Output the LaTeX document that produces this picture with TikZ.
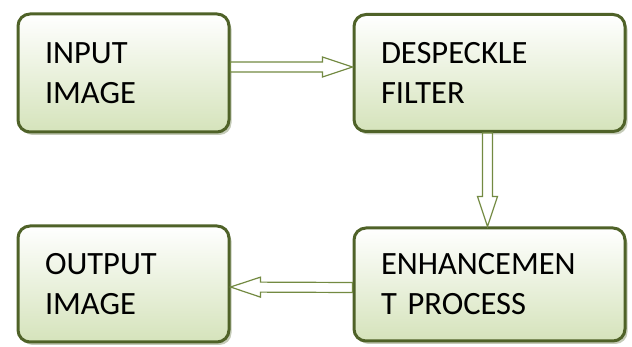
\documentclass[tikz,border=0pt]{standalone}
\usepackage{fontspec}
\setmainfont{Carlito}
\usetikzlibrary{calc}
\usetikzlibrary{shadows}

\definecolor{stageline}{RGB}{79,98,40}
\definecolor{stagefill}{RGB}{213,227,187}
\definecolor{arrowline}{RGB}{115,138,66}

\tikzset{
  stage/.style={draw=stageline, line width=3pt, rounded corners=12pt,
    top color=white, bottom color=stagefill,
    drop shadow={shadow xshift=2.5pt, shadow yshift=-3pt, fill=stageline!55, opacity=0.6},
    inner xsep=27pt, align=left,
    font=\fontsize{32.5}{40}\selectfont},
  blockarrow/.style={draw=arrowline, fill=white, line width=1.2pt, line join=miter,
    to path={let \p1=(\tikztostart), \p2=(\tikztotarget),
      \n1={veclen(\x2-\x1,\y2-\y1)}, \n2={(\x2-\x1)/\n1}, \n3={(\y2-\y1)/\n1} in
      (\x1-5*\n3,\y1+5*\n2) -- (\x2-30*\n2-5*\n3,\y2-30*\n3+5*\n2)
      -- (\x2-30*\n2-10*\n3,\y2-30*\n3+10*\n2) -- (\p2)
      -- (\x2-30*\n2+10*\n3,\y2-30*\n3-10*\n2) -- (\x2-30*\n2+5*\n3,\y2-30*\n3-5*\n2)
      -- (\x1+5*\n3,\y1-5*\n2) -- cycle}}
}

\begin{document}
\begin{tikzpicture}[x=1pt,y=-1pt]
\useasboundingbox (0,0) rectangle (632,347);

\node[stage, minimum width=211pt, minimum height=118pt, text width=157pt] (inp) at (123.5,73) {INPUT\\IMAGE};
\node[stage, minimum width=271pt, minimum height=117pt, text width=217pt] (fil) at (489.5,73) {DESPECKLE\\FILTER};
\node[stage, minimum width=271pt, minimum height=113pt, text width=217pt] (enh) at (489.5,284.5) {ENHANCEMEN\\T PROCESS};
\node[stage, minimum width=211pt, minimum height=116pt, text width=157pt] (out) at (123.5,284) {OUTPUT\\IMAGE};

\draw[blockarrow] ([yshift=6pt]inp.east) to ([yshift=6pt]fil.west);
\draw[blockarrow] ([xshift=-2pt]fil.south) to ([xshift=-2pt]enh.north);
\draw[blockarrow] ([yshift=-3pt]enh.west) to ([yshift=-3pt]out.east);

\end{tikzpicture}
\end{document}
